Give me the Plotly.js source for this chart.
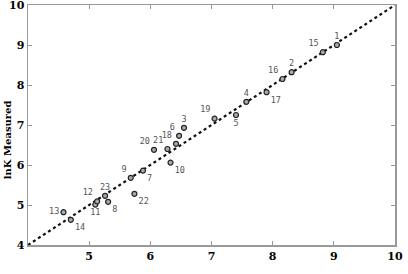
<!DOCTYPE html>
<html>
<head>
<meta charset="utf-8">
<script src="https://cdn.plot.ly/plotly-3.0.1.min.js"></script>
<style>html,body{margin:0;padding:0;background:#fff;}#chart{width:408px;height:274px;}</style>
</head>
<body>
<div id="chart"></div>
<script>
// Point labels, predicted lnK (x) and measured lnK (y)
const labels = ["1","2","3","4","5","6","7","8","9","10","11","12","13","14","15","16","17","18","19","20","21","22","23"];
const predicted = [9.05,8.31,6.55,7.57,7.40,6.47,5.88,5.31,5.68,6.33,5.10,5.13,4.58,4.70,8.82,8.16,7.90,6.42,7.05,6.06,6.28,5.74,5.26];
const measured  = [9.00,8.32,6.93,7.58,7.25,6.73,5.86,5.08,5.68,6.06,5.01,5.09,4.82,4.63,8.82,8.15,7.82,6.53,7.16,6.38,6.40,5.28,5.23];
const labelPos  = ["top center","top center","top center","top center","bottom center","top left","bottom right","bottom right","top left","bottom right","bottom center","top left","middle left","bottom right","top left","top left","bottom right","top left","top left","top left","top left","bottom right","top center"];
const idealLine = [4, 10];
const xTicks = [5,6,7,8,9,10];
const yTicks = [4,5,6,7,8,9,10];
const yTitle = 'lnK Measured';

const traces = [
  {
    x: idealLine, y: idealLine, mode: 'lines', type: 'scatter',
    line: {color: '#111', width: 2.2, dash: 'dot'}, hoverinfo: 'skip'
  },
  {
    x: predicted, y: measured, mode: 'markers+text', type: 'scatter',
    text: labels, textposition: labelPos,
    textfont: {family: 'DejaVu Sans Mono', size: 8.5, color: '#555'},
    marker: {symbol: 'circle', size: 5, color: '#aaa', line: {color: '#222', width: 1.2}}
  }
];

const tickFont = {family: 'DejaVu Serif', size: 11, color: '#000', weight: 'bold'};
const layout = {
  width: 408, height: 274,
  margin: {l: 28, r: 13, t: 5, b: 29},
  paper_bgcolor: '#fff', plot_bgcolor: '#fff',
  showlegend: false,
  xaxis: {
    range: [4, 10], tickvals: xTicks, ticktext: xTicks.map(String),
    ticks: 'inside', ticklen: 4, tickcolor: '#999', tickwidth: 1,
    showline: true, linecolor: '#999', linewidth: 1.5, mirror: 'allticks',
    showgrid: false, zeroline: false, tickfont: tickFont, ticklabeloverflow: 'allow'
  },
  yaxis: {
    range: [4, 10], tickvals: yTicks, ticktext: yTicks.map(String),
    ticks: 'inside', ticklen: 4, tickcolor: '#999', tickwidth: 1,
    showline: true, linecolor: '#999', linewidth: 1.5, mirror: 'allticks',
    showgrid: false, zeroline: false, tickfont: tickFont, ticklabeloverflow: 'allow'
  },
  annotations: [{
    text: '<b>' + yTitle + '</b>', textangle: -90,
    xref: 'paper', yref: 'paper', x: -0.055, y: 0.44,
    xanchor: 'center', yanchor: 'middle', showarrow: false,
    font: {family: 'DejaVu Serif', size: 10, color: '#000'}
  }]
};

Plotly.newPlot('chart', traces, layout, {staticPlot: true, displayModeBar: false});
</script>
</body>
</html>
